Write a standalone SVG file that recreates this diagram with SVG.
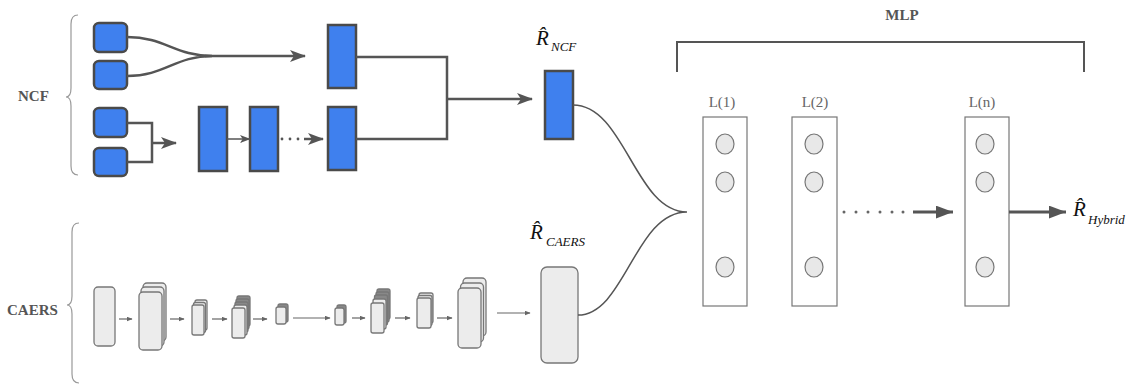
<svg xmlns="http://www.w3.org/2000/svg" width="1133" height="385" viewBox="0 0 1133 385">
<style>
.blue{fill:#3f80ee;stroke:#4a4a4a;stroke-width:2.5}
.sq{fill:#3f80ee;stroke:#4a4a4a;stroke-width:2.5}
.con{fill:none;stroke:#555;stroke-width:2.5}
.thin{fill:none;stroke:#555;stroke-width:1.5}
.brace{fill:none;stroke:#999;stroke-width:1.2}
.conv{fill:#ececec;stroke:#777;stroke-width:1.3}
.convd{fill:#888;stroke:#777;stroke-width:1.3}
.layer{fill:#fff;stroke:#777;stroke-width:1.2}
.neuron{fill:#e8e8e8;stroke:#777;stroke-width:1.2}
.lbl{font-family:'Liberation Serif',serif;font-weight:bold;fill:#555;font-size:15px}
.ll{font-family:'Liberation Serif',serif;fill:#666;font-size:15px}
.eq{font-family:'Liberation Serif',serif;font-style:italic;fill:#111}
.R{font-size:21px}
.sub{font-size:13px}
</style>
<defs>
<marker id="chev" viewBox="0 0 16 12" refX="15" refY="6" markerWidth="16" markerHeight="12" markerUnits="userSpaceOnUse" orient="auto"><path d="M0,0 L16,6 L0,12 L4,6 z" fill="#555"/></marker>
<marker id="chevs" viewBox="0 0 16 12" refX="15" refY="6" markerWidth="11" markerHeight="8" markerUnits="userSpaceOnUse" orient="auto"><path d="M0,0 L16,6 L0,12 L4,6 z" fill="#555"/></marker>
<marker id="small" viewBox="0 0 10 8" refX="9" refY="4" markerWidth="6" markerHeight="5" markerUnits="userSpaceOnUse" orient="auto"><path d="M0,0 L10,4 L0,8 z" fill="#666"/></marker>
<marker id="tri" viewBox="0 0 16 12" refX="16" refY="6" markerWidth="17" markerHeight="13" markerUnits="userSpaceOnUse" orient="auto"><path d="M0,0 L16,6 L0,12 z" fill="#555"/></marker>
</defs>

<!-- labels and braces -->
<g id="ncf-label">
<text class="lbl" x="18" y="101">NCF</text>
<path class="brace" d="M78,15 Q71,15 71,24 L71,88 Q71,97 66,97 Q71,97 71,106 L71,166 Q71,175 78,175"/>
</g>
<g id="caers-label">
<text class="lbl" x="7" y="315">CAERS</text>
<path class="brace" d="M79,223 Q72,223 72,232 L72,296 Q72,305 67,305 Q72,305 72,314 L72,374 Q72,383 79,383"/>
</g>

<!-- NCF nodes -->
<g id="ncf-in1"><rect class="sq" x="94" y="23" width="33" height="29" rx="5"/></g>
<g id="ncf-in2"><rect class="sq" x="94" y="61" width="33" height="28" rx="5"/></g>
<g id="ncf-in3"><rect class="sq" x="94" y="108" width="33" height="29" rx="5"/></g>
<g id="ncf-in4"><rect class="sq" x="94" y="148" width="33" height="28" rx="5"/></g>
<g id="gmf-out"><rect class="blue" x="328" y="25" width="28" height="63"/></g>
<g id="mlp-h1"><rect class="blue" x="199" y="107" width="28" height="64"/></g>
<g id="mlp-h2"><rect class="blue" x="250" y="107" width="28" height="64"/></g>
<g id="mlp-hn"><rect class="blue" x="328" y="107" width="28" height="63"/></g>
<g id="r-ncf">
<rect class="blue" x="545" y="71" width="28" height="68"/>
<text class="eq"><tspan class="R" x="536" y="45">R̂</tspan><tspan class="sub" x="551" y="51">NCF</tspan></text>
</g>

<!-- CAERS nodes -->
<g id="caers-c1"><rect class="conv" x="94" y="287" width="21" height="59" rx="4"/></g>
<g id="caers-c2">
<rect class="conv" x="143" y="283" width="23" height="58" rx="4"/>
<rect class="conv" x="141" y="287" width="23" height="59" rx="4"/>
<rect class="conv" x="139" y="292" width="23" height="58" rx="4"/>
</g>
<g id="caers-c3">
<rect class="conv" x="195" y="300" width="12" height="30" rx="2"/>
<rect class="conv" x="193.5" y="302.5" width="12" height="30" rx="2"/>
<rect class="conv" x="192" y="305" width="12" height="30" rx="2"/>
</g>
<g id="caers-c4">
<rect class="convd" x="237" y="296" width="13" height="30" rx="2"/>
<rect class="convd" x="236" y="299" width="13" height="30" rx="2"/>
<rect class="convd" x="235" y="302" width="13" height="30" rx="2"/>
<rect class="conv" x="234" y="305" width="13" height="30" rx="2"/>
<rect class="conv" x="232" y="308" width="13" height="30" rx="2"/>
</g>
<g id="caers-c5">
<rect class="convd" x="278" y="304" width="10" height="18" rx="2"/>
<rect class="conv" x="276" y="307" width="10" height="17" rx="2"/>
</g>
<g id="caers-c6">
<rect class="convd" x="337" y="305" width="9" height="18" rx="2"/>
<rect class="conv" x="335" y="308" width="9" height="17" rx="2"/>
</g>
<g id="caers-c7">
<rect class="convd" x="377" y="289" width="13" height="30" rx="2"/>
<rect class="convd" x="376" y="292" width="13" height="30" rx="2"/>
<rect class="convd" x="374.5" y="295" width="13" height="30" rx="2"/>
<rect class="conv" x="373" y="299" width="13" height="30" rx="2"/>
<rect class="conv" x="371" y="303" width="13" height="30" rx="2"/>
</g>
<g id="caers-c8">
<rect class="conv" x="419" y="293" width="14" height="30" rx="2"/>
<rect class="conv" x="418" y="295.5" width="14" height="30" rx="2"/>
<rect class="conv" x="417" y="298" width="14" height="30" rx="2"/>
</g>
<g id="caers-c9">
<rect class="conv" x="463" y="278" width="23" height="58" rx="4"/>
<rect class="conv" x="460.5" y="283" width="23" height="59" rx="4"/>
<rect class="conv" x="458" y="288" width="23" height="60" rx="4"/>
</g>
<g id="r-caers">
<rect class="conv" x="541" y="267" width="37" height="96" rx="6"/>
<text class="eq"><tspan class="R" x="530" y="239">R̂</tspan><tspan class="sub" x="546" y="246">CAERS</tspan></text>
</g>

<!-- MLP -->
<g id="mlp-label">
<text class="lbl" x="902" y="20" text-anchor="middle">MLP</text>
<path d="M677,72 L677,42 L1084,42 L1084,72" fill="none" stroke="#555" stroke-width="2"/>
</g>
<g id="layer-1">
<text class="ll" x="722" y="107" text-anchor="middle">L(1)</text>
<rect class="layer" x="703" y="117" width="44" height="189"/>
<ellipse class="neuron" cx="725" cy="144" rx="9" ry="10"/>
<ellipse class="neuron" cx="725" cy="182" rx="9" ry="10"/>
<ellipse class="neuron" cx="725" cy="267" rx="9" ry="10"/>
</g>
<g id="layer-2">
<text class="ll" x="815" y="107" text-anchor="middle">L(2)</text>
<rect class="layer" x="792" y="117" width="45" height="189"/>
<ellipse class="neuron" cx="814" cy="144" rx="9" ry="10"/>
<ellipse class="neuron" cx="814" cy="182" rx="9" ry="10"/>
<ellipse class="neuron" cx="814" cy="267" rx="9" ry="10"/>
</g>
<g id="layer-n">
<text class="ll" x="982" y="107" text-anchor="middle">L(n)</text>
<rect class="layer" x="965" y="117" width="44" height="189"/>
<ellipse class="neuron" cx="985" cy="144" rx="9" ry="10"/>
<ellipse class="neuron" cx="985" cy="182" rx="9" ry="10"/>
<ellipse class="neuron" cx="985" cy="267" rx="9" ry="10"/>
</g>
<g id="r-hybrid">
<text class="eq"><tspan class="R" x="1073" y="216">R̂</tspan><tspan class="sub" x="1088" y="224">Hybrid</tspan></text>
</g>

<!-- connectors -->
<g id="connectors">
<path class="con" d="M127,37 C165,37 175,56 212,56 M127,76 C165,76 175,56 212,56"/>
<path class="con" d="M205,56 L305,56" marker-end="url(#chev)"/>
<path class="con" d="M127,123 L152,123 L152,162 L127,162"/>
<path class="con" d="M152,143 L176,143" marker-end="url(#chev)"/>
<path class="thin" d="M227,139 L250,139" marker-end="url(#chevs)"/>
<circle cx="282" cy="139" r="1.4" fill="#555"/>
<circle cx="290" cy="139" r="1.4" fill="#555"/>
<circle cx="298" cy="139" r="1.4" fill="#555"/>
<path class="con" d="M304,139 L323,139" marker-end="url(#chev)"/>
<path class="con" d="M356,57 L447,57 L447,139 L356,139"/>
<path class="con" d="M447,99 L532,99" marker-end="url(#chev)"/>
<path class="thin" d="M573,105 C625,105 635,212 687,212 M578,315 C625,315 635,212 687,212"/>
<g fill="none" stroke="#666" stroke-width="1.2">
<path d="M119,319 L132,319" marker-end="url(#small)"/>
<path d="M170,319 L184,319" marker-end="url(#small)"/>
<path d="M212,319 L227,319" marker-end="url(#small)"/>
<path d="M253,319 L267,319" marker-end="url(#small)"/>
<path d="M293,318 L330,318" marker-end="url(#small)"/>
<path d="M352,318 L365,318" marker-end="url(#small)"/>
<path d="M395,318 L410,318" marker-end="url(#small)"/>
<path d="M437,318 L452,318" marker-end="url(#small)"/>
<path d="M497,313 L530,313" marker-end="url(#small)"/>
</g>
<g fill="#666">
<circle cx="844" cy="212" r="1.5"/><circle cx="856" cy="212" r="1.5"/><circle cx="868" cy="212" r="1.5"/>
<circle cx="880" cy="212" r="1.5"/><circle cx="892" cy="212" r="1.5"/><circle cx="903" cy="212" r="1.5"/>
</g>
<path d="M913,212 L953,212" fill="none" stroke="#555" stroke-width="3" marker-end="url(#tri)"/>
<path d="M1009,212 L1066,212" fill="none" stroke="#555" stroke-width="3" marker-end="url(#tri)"/>
</g>
</svg>
